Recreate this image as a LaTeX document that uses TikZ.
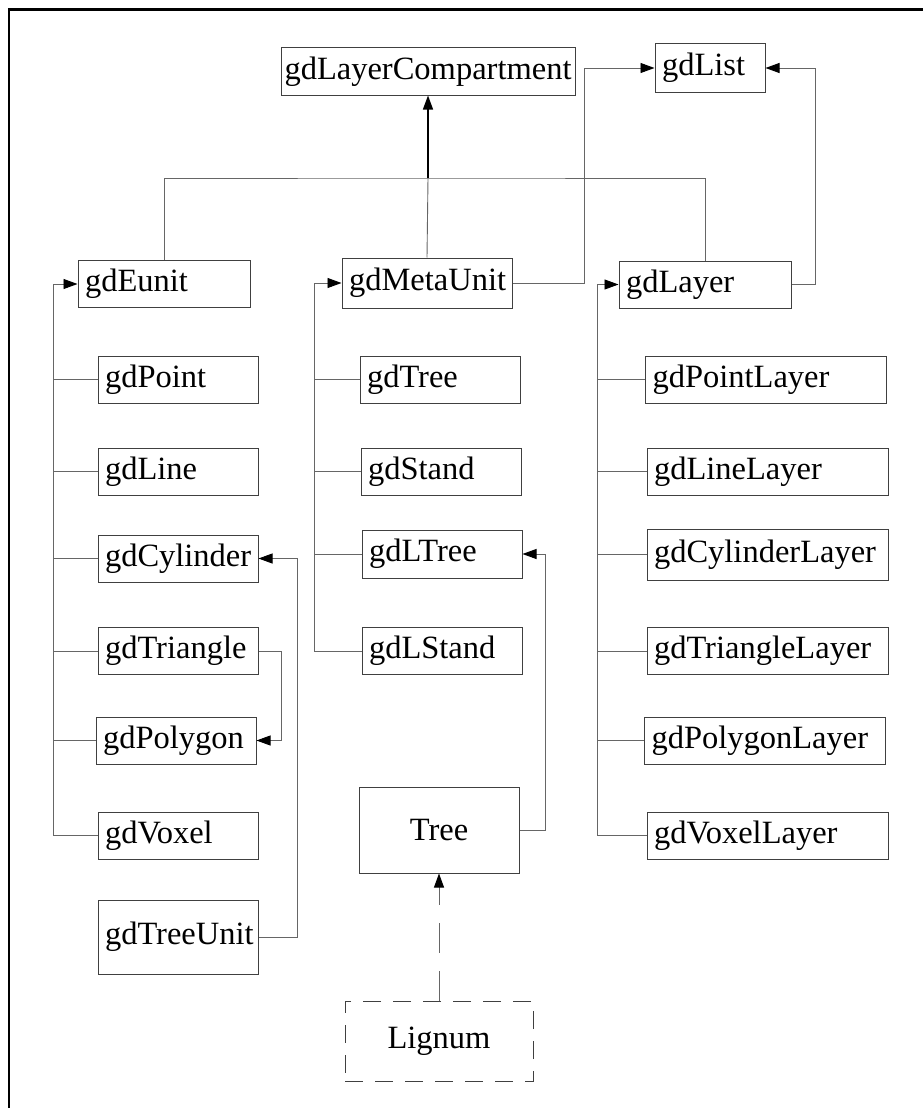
\documentclass[tikz,border=0pt]{standalone}
\usepackage{fontspec}
\setmainfont{Liberation Serif}
\usetikzlibrary{positioning, arrows.meta}

\begin{document}
\begin{tikzpicture}[x=1pt, y=-1pt, >={Triangle[length=14pt,width=10pt,color=black]},
  every node/.style={font=\fontsize{32.5}{36}\selectfont},
  class node/.style={rectangle, draw=black!75, line width=1pt, minimum height=47pt,
    text width=#1, inner xsep=7pt, inner ysep=0pt, align=left},
  plain node/.style={rectangle, draw=black!75, line width=1pt, minimum height=47pt,
    inner sep=0pt, align=center},
  conn/.style={draw=black!60, line width=0.9pt}]

\useasboundingbox (0,0) rectangle (922,1108);
\draw[line width=2.5pt] (9,1110) -- (9,9.5);
\draw[line width=3pt] (7.75,9.5) -- (924,9.5);

\node[plain node, minimum width=294pt] (comp) at (428,71.5) {gdLayerCompartment};
\node[class node=96, minimum height=48pt] (list) at (710,68) {gdList};

\node[class node=158] (eunit) at (164,284) {gdEunit};
\node[class node=156, minimum height=50pt] (meta) at (427,283) {gdMetaUnit};
\node[class node=158] (layer) at (705,284.5) {gdLayer};

\node[class node=146] (point) at (178,379.5) {gdPoint};
\node[class node=146] (line) at (178,471.5) {gdLine};
\node[class node=146] (cyl) at (178,558.5) {gdCylinder};
\node[class node=146] (tri) at (178,651) {gdTriangle};
\node[class node=146] (poly) at (176,740.5) {gdPolygon};
\node[class node=146] (voxel) at (178,835.5) {gdVoxel};
\node[class node=146, minimum height=74pt] (treeunit) at (178,937) {gdTreeUnit};

\node[class node=146] (gtree) at (440,379.5) {gdTree};
\node[class node=146] (stand) at (441,471.5) {gdStand};
\node[class node=146, minimum height=48pt] (ltree) at (442,554) {gdLTree};
\node[class node=146] (lstand) at (442,651) {gdLStand};
\node[plain node, minimum width=160pt, minimum height=86pt] (bigtree) at (439,830) {Tree};
\node[plain node, minimum width=188pt, minimum height=80pt,
  dash pattern=on 18pt off 12pt] (lignum) at (439,1041) {Lignum};

\node[class node=227] (pointlayer) at (766,379.5) {gdPointLayer};
\node[class node=227] (linelayer) at (767.5,471.5) {gdLineLayer};
\node[class node=227, minimum height=51pt] (cyllayer) at (767.5,554.5) {gdCylinderLayer};
\node[class node=227] (trilayer) at (767.5,651) {gdTriangleLayer};
\node[class node=227] (polylayer) at (765,740.5) {gdPolygonLayer};
\node[class node=227] (voxlayer) at (767.5,835.5) {gdVoxelLayer};

\coordinate (bus) at (428,178);
\coordinate (etop) at (53,284);
\coordinate (mtop) at (314,283);
\coordinate (rtop) at (597,284.5);

\path[conn] (eunit.north) |- (bus) -| (layer.north);
\path[conn] (meta.north) -- (bus);
\draw[->, line width=1.4pt] (bus) -- (comp.south);
\path[conn, ->] (meta.east) -- ++(72,0) |- (list.west);
\path[conn, ->] (layer.east) -- ++(24,0) |- (list.east);

\path[conn, ->] (etop) -- (eunit.west);
\foreach \n in {point,line,cyl,tri,poly,voxel}
  \path[conn] (\n.west) -| (etop);
\path[conn, ->] (mtop) -- (meta.west);
\foreach \n in {gtree,stand,ltree,lstand}
  \path[conn] (\n.west) -| (mtop);
\path[conn, ->] (rtop) -- (layer.west);
\foreach \n in {pointlayer,linelayer,cyllayer,trilayer,polylayer,voxlayer}
  \path[conn] (\n.west) -| (rtop);

\path[conn, ->] (tri.east) -- ++(23,0) |- (poly.east);
\path[conn, ->] (treeunit.east) -- ++(39,0) |- (cyl.east);
\path[conn, ->] (bigtree.east) -- ++(26,0) |- (ltree.east);
\path[conn, ->, dash pattern=on 30pt off 18pt] (lignum.north) -- (bigtree.south);
\end{tikzpicture}
\end{document}
